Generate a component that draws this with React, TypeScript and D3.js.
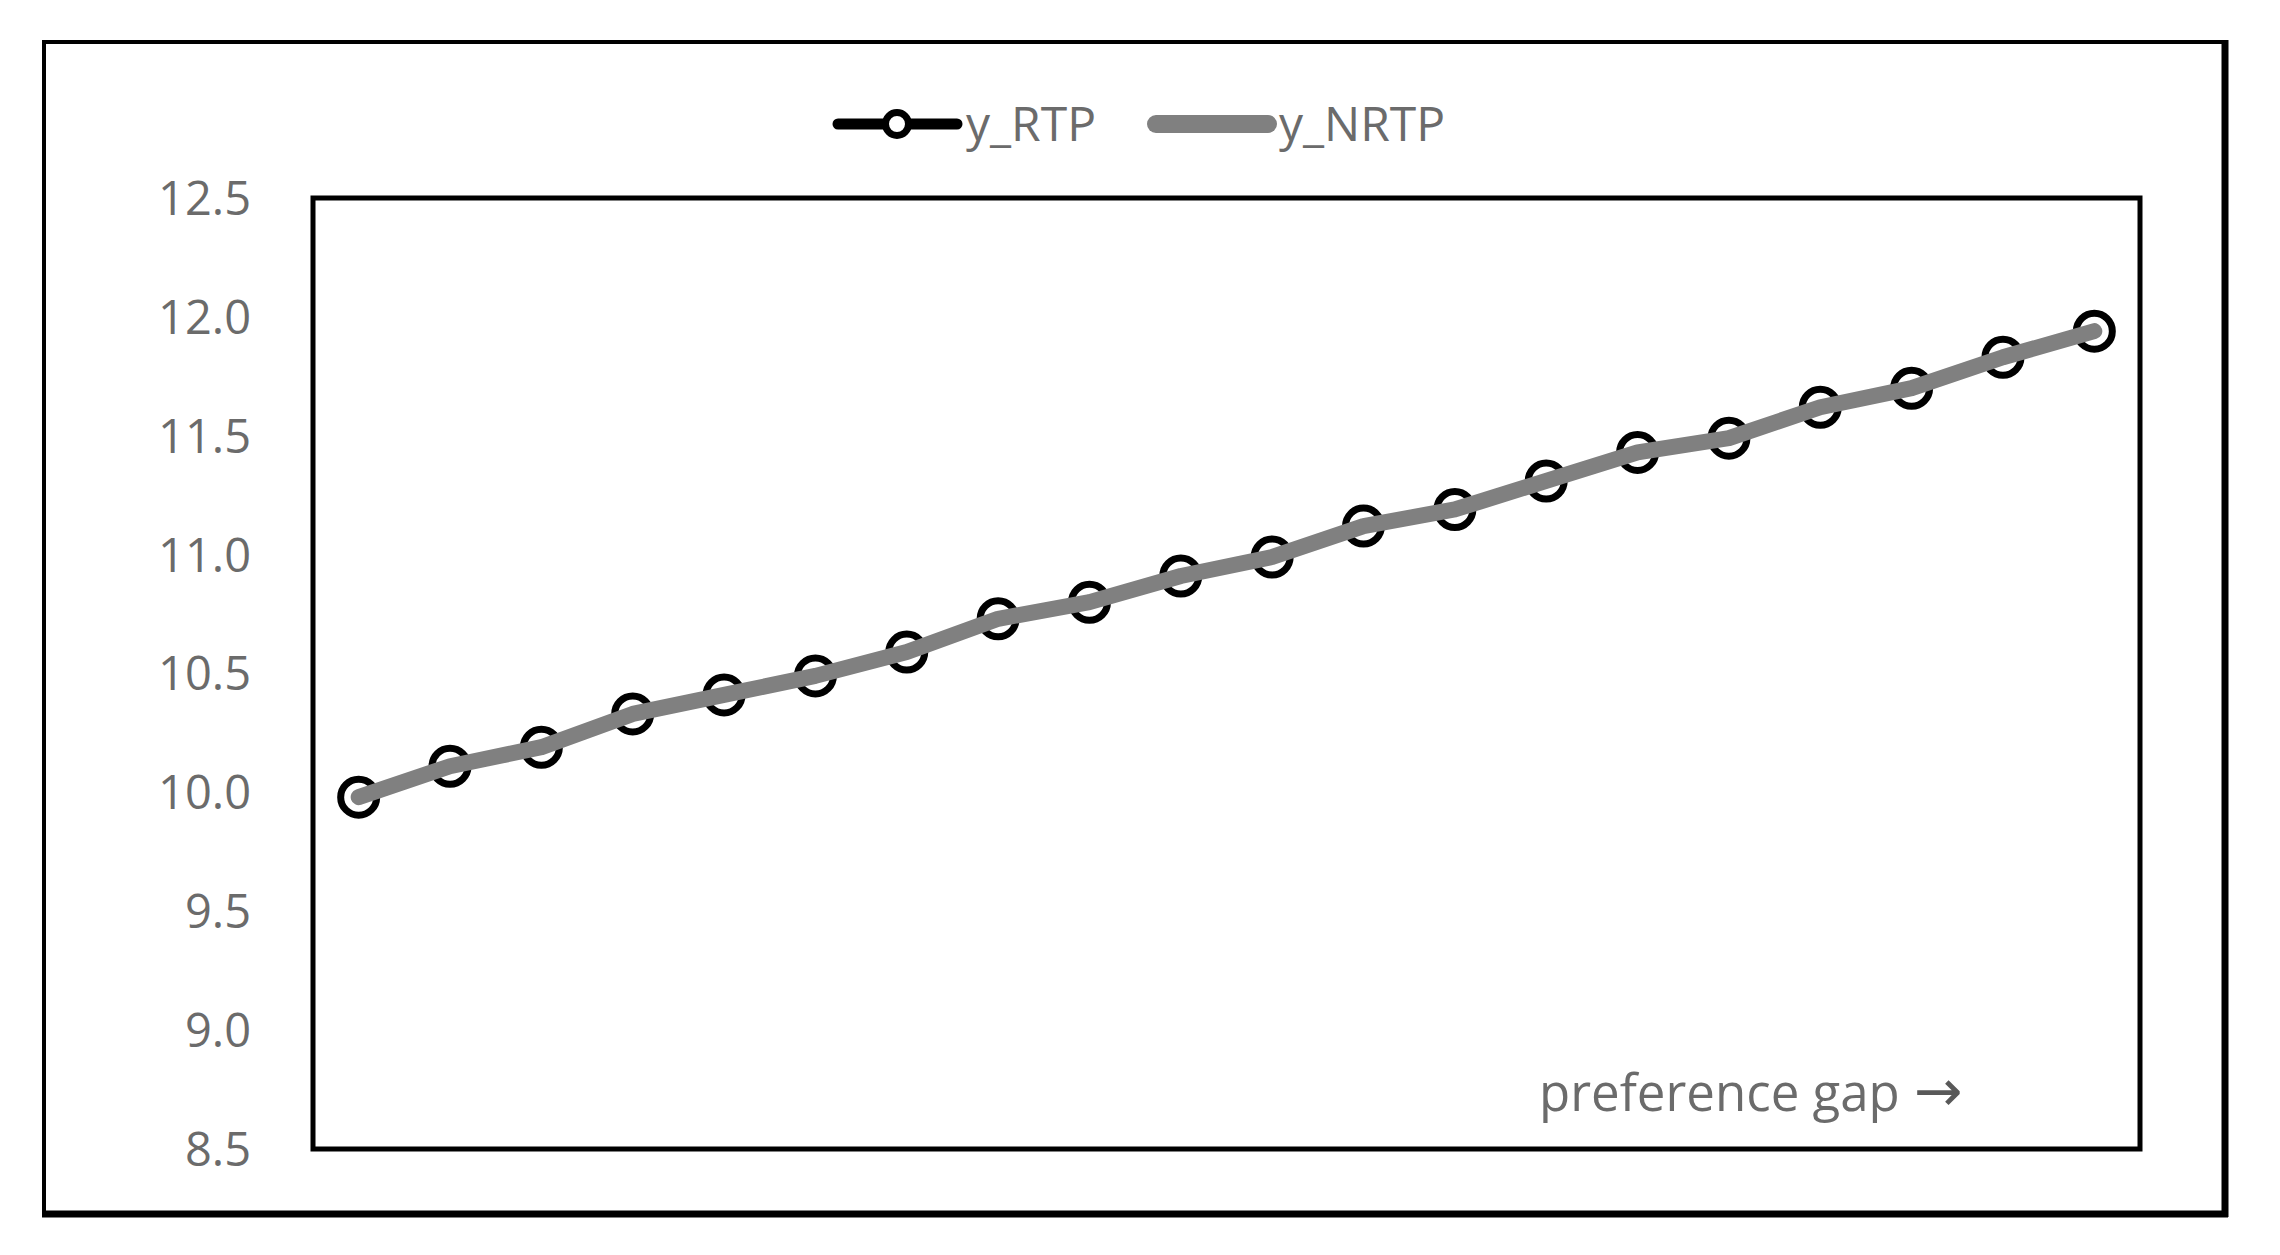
import React from "react";
import * as d3 from "d3";

const categories: number[] = [1, 2, 3, 4, 5, 6, 7, 8, 9, 10, 11, 12, 13, 14, 15, 16, 17, 18, 19, 20];
const yRTP: number[] = [9.98, 10.11, 10.19, 10.33, 10.41, 10.49, 10.59, 10.73, 10.8, 10.91, 10.99, 11.12, 11.19, 11.31, 11.43, 11.49, 11.62, 11.7, 11.83, 11.94];
const yNRTP: number[] = [9.98, 10.11, 10.19, 10.33, 10.41, 10.49, 10.59, 10.73, 10.8, 10.91, 10.99, 11.12, 11.19, 11.31, 11.43, 11.49, 11.62, 11.7, 11.83, 11.94];
const yTicks: number[] = [8.5, 9.0, 9.5, 10.0, 10.5, 11.0, 11.5, 12.0, 12.5];
const seriesNames: string[] = ["y_RTP", "y_NRTP"];
const axisNote = "preference gap";
const axisArrow = "\u2192";

const W = 2280;
const H = 1255;
const plot = { left: 313, right: 2140, top: 198, bottom: 1149 };
const FONT = "'Open Sans', 'Noto Sans', sans-serif";
const TEXT_GRAY = "#6b6b6b";
const LINE_GRAY = "#808080";

export default function App() {
  const x = d3
    .scalePoint<number>()
    .domain(categories)
    .range([plot.left, plot.right])
    .padding(0.5);
  const y = d3.scaleLinear().domain([8.5, 12.5]).range([plot.bottom, plot.top]);
  const fmt = d3.format(".1f");

  const line = d3
    .line<number>()
    .x((_, i) => x(categories[i]) as number)
    .y((d) => y(d));

  return (
    <svg
      width={W}
      height={H}
      style={{ position: "absolute", left: 0, top: 0, background: "#fff" }}
    >
      <rect x={0} y={0} width={W} height={H} fill="#fff" />
      {/* outer frame */}
      <rect x={44} y={42} width={2181} height={1173} fill="none" stroke="#000" strokeWidth={4} />
      <line x1={2225} y1={40} x2={2225} y2={1217} stroke="#000" strokeWidth={7} />
      <line x1={42} y1={1214} x2={2228} y2={1214} stroke="#000" strokeWidth={7} />

      {/* legend */}
      <g>
        <line x1={838} y1={124} x2={957} y2={124} stroke="#000" strokeWidth={11} strokeLinecap="round" />
        <circle cx={897} cy={124} r={11.5} fill="#fff" stroke="#000" strokeWidth={7} />
        <text x={966} y={141} fontFamily={FONT} fontSize={48} fill={TEXT_GRAY}>
          {seriesNames[0]}
        </text>
        <line x1={1156} y1={124} x2={1268} y2={124} stroke={LINE_GRAY} strokeWidth={18} strokeLinecap="round" />
        <text x={1279} y={141} fontFamily={FONT} fontSize={48} fill={TEXT_GRAY}>
          {seriesNames[1]}
        </text>
      </g>

      {/* y tick labels */}
      {yTicks.map((t) => (
        <text
          key={t}
          x={251}
          y={y(t)}
          dy="0.36em"
          textAnchor="end"
          fontFamily={FONT}
          fontSize={47}
          fill={TEXT_GRAY}
        >
          {fmt(t)}
        </text>
      ))}

      {/* series y_RTP: black line with circle markers */}
      <path d={line(yRTP) || ""} fill="none" stroke="#000" strokeWidth={9} strokeLinejoin="round" />
      {yRTP.map((v, i) => (
        <circle
          key={i}
          cx={x(categories[i]) as number}
          cy={y(v)}
          r={18}
          fill="#fff"
          stroke="#000"
          strokeWidth={7}
        />
      ))}

      {/* series y_NRTP: thick gray line */}
      <path
        d={line(yNRTP) || ""}
        fill="none"
        stroke={LINE_GRAY}
        strokeWidth={16}
        strokeLinejoin="round"
        strokeLinecap="round"
      />

      {/* plot area frame */}
      <rect
        x={plot.left}
        y={plot.top}
        width={plot.right - plot.left}
        height={plot.bottom - plot.top}
        fill="none"
        stroke="#000"
        strokeWidth={5}
      />

      <text x={1539} y={1111} fontFamily={FONT} fontSize={51} fill={TEXT_GRAY}>
        {axisNote}
        <tspan dx={14} fontFamily="'DejaVu Sans', sans-serif" fontSize={58} fill="#595959">
          {axisArrow}
        </tspan>
      </text>
    </svg>
  );
}
